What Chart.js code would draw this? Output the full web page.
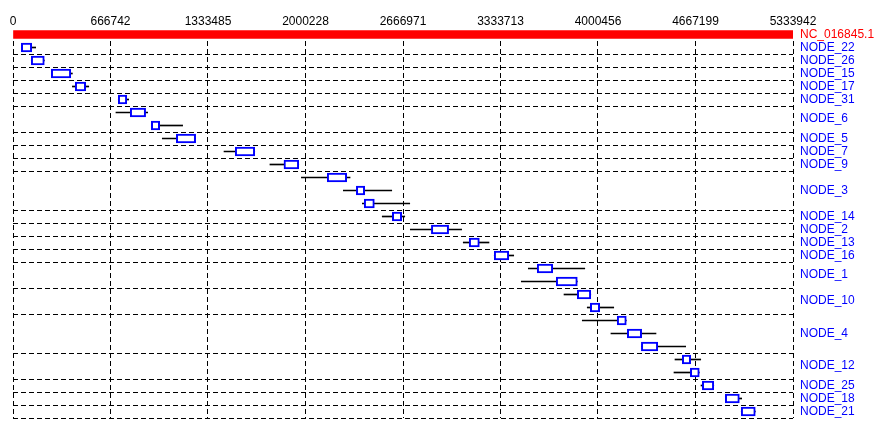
<!DOCTYPE html>
<html><head><meta charset="utf-8">
<script src="https://cdn.jsdelivr.net/npm/chart.js@4/dist/chart.umd.min.js"></script>
<style>html,body{margin:0;padding:0;background:#fff}</style>
</head><body>
<canvas id="c" width="880" height="432"></canvas>
<script>
const chromName = 'NC_016845.1';
const chromLength = 5333942;
const xTickValues = [0, 666742, 1333485, 2000228, 2666971, 3333713, 4000456, 4667199, 5333942];
const xTickLabels = ['0', '666742', '1333485', '2000228', '2666971', '3333713', '4000456', '4667199', '5333942'];
const groupNames = ['NODE_22','NODE_26','NODE_15','NODE_17','NODE_31','NODE_6','NODE_5','NODE_7','NODE_9','NODE_3','NODE_14','NODE_2','NODE_13','NODE_16','NODE_1','NODE_10','NODE_4','NODE_12','NODE_25','NODE_18','NODE_21'];
const groupRows = [1,1,1,1,1,2,1,1,1,3,1,1,1,1,2,2,3,2,1,1,1];
const whiskerStart = [57000,125000,262000,406000,720000,704000,946000,1021000,1443000,1757000,1972000,2259000,2389000,2525000,2717000,3079000,3291000,3524000,3476000,3768000,3927000,3893000,4089000,4297000,4527000,4520000,4705000,4871000,4980000];
const boxStart = [57000,125000,262000,426000,720000,802000,946000,1117000,1520000,1853000,2149000,2348000,2402000,2594000,2861000,3120000,3291000,3585000,3715000,3859000,3948000,4132000,4201000,4297000,4577000,4632000,4714000,4871000,4980000];
const boxEnd = [128000,214000,395000,497000,778000,907000,1003000,1249000,1653000,1954000,2282000,2405000,2471000,2658000,2979000,3189000,3390000,3691000,3859000,3951000,4012000,4194000,4299000,4409000,4634000,4693000,4792000,4967000,5076000];
const whiskerEnd = [155000,214000,406000,518000,791000,921000,1160000,1249000,1653000,1954000,2305000,2590000,2713000,2679000,3068000,3255000,3424000,3910000,3859000,3951000,4108000,4194000,4397000,4600000,4703000,4693000,4792000,4983000,5076000];

// derived structure
const totalRows = groupRows.reduce((a, b) => a + b, 0);
const boundaries = [];
const labelPos = [-0.5];
const labelText = [chromName];
let acc = 0;
groupRows.forEach((n, i) => {
  labelPos.push(acc + n / 2);
  labelText.push(groupNames[i]);
  acc += n;
  boundaries.push(acc);
});

const boxData = boxStart.map((s, i) => ({x: [s, boxEnd[i]], y: i + 0.5}));
const whiskerData = whiskerStart.map((s, i) => ({x: [s, whiskerEnd[i]], y: i + 0.5}));
const chromData = [{x: [0, chromLength], y: -0.5}];

const clearTopStrip = {
  id: 'clearTopStrip',
  beforeDatasetsDraw(chart) {
    const {ctx, chartArea} = chart;
    const y0 = chart.scales.y.getPixelForValue(0);
    ctx.save();
    ctx.fillStyle = '#fff';
    ctx.fillRect(chartArea.left - 2, chartArea.top - 1, chartArea.right - chartArea.left + 4, y0 - chartArea.top);
    ctx.restore();
  }
};

const FONT = {family: 'Liberation Sans, Arial, sans-serif', size: 12};
const noPad = s => { s.paddingTop = 0; s.paddingBottom = 0; s.paddingLeft = 0; s.paddingRight = 0; };

new Chart(document.getElementById('c'), {
  type: 'bar',
  data: {
    datasets: [
      {data: boxData, backgroundColor: '#ffffff', borderColor: '#0000ff', borderWidth: 2, barThickness: 9, grouped: false, borderSkipped: false},
      {data: whiskerData, backgroundColor: '#000000', borderWidth: 0, barThickness: 1, grouped: false, borderSkipped: false},
      {data: chromData, backgroundColor: '#ff0000', borderWidth: 0, barThickness: 8, grouped: false, borderSkipped: false}
    ]
  },
  options: {
    indexAxis: 'y',
    responsive: false,
    devicePixelRatio: 1,
    animation: false,
    layout: {padding: {left: 13, right: 0, top: 0, bottom: 14}},
    plugins: {legend: {display: false}, tooltip: {enabled: false}},
    scales: {
      x: {
        type: 'linear', position: 'top', min: 0, max: chromLength, offset: false,
        afterBuildTicks: s => { s.ticks = xTickValues.map(v => ({value: v})); },
        afterFit: s => { s.height = 28; noPad(s); },
        ticks: {autoSkip: false, maxRotation: 0, padding: -1, color: '#000', font: FONT,
          callback: (v, i) => xTickLabels[i]},
        grid: {color: '#000', lineWidth: 1, drawTicks: false, offset: false},
        border: {display: false, dash: [5, 3], dashOffset: 3}
      },
      y: {
        type: 'linear', position: 'left', min: -1, max: totalRows, reverse: true, offset: false,
        afterBuildTicks: s => { s.ticks = boundaries.map(v => ({value: v})); },
        afterFit: s => { s.width = 0; noPad(s); },
        ticks: {display: false},
        grid: {color: '#000', lineWidth: 1, drawTicks: false, offset: false},
        border: {display: false, dash: [5, 3], dashOffset: 0}
      },
      y2: {
        type: 'linear', position: 'right', min: -1, max: totalRows, reverse: true, offset: false,
        afterBuildTicks: s => { s.ticks = labelPos.map(v => ({value: v})); },
        afterFit: s => { s.width = 87; noPad(s); },
        ticks: {autoSkip: false, padding: 0, font: FONT,
          color: c => c.index === 0 ? '#ff0000' : '#0000ff',
          callback: (v, i) => labelText[i]},
        grid: {display: true, drawOnChartArea: false, drawTicks: true, tickLength: 7, tickColor: 'rgba(0,0,0,0)', offset: false},
        border: {display: false}
      }
    }
  },
  plugins: [clearTopStrip]
});
</script>
</body></html>
